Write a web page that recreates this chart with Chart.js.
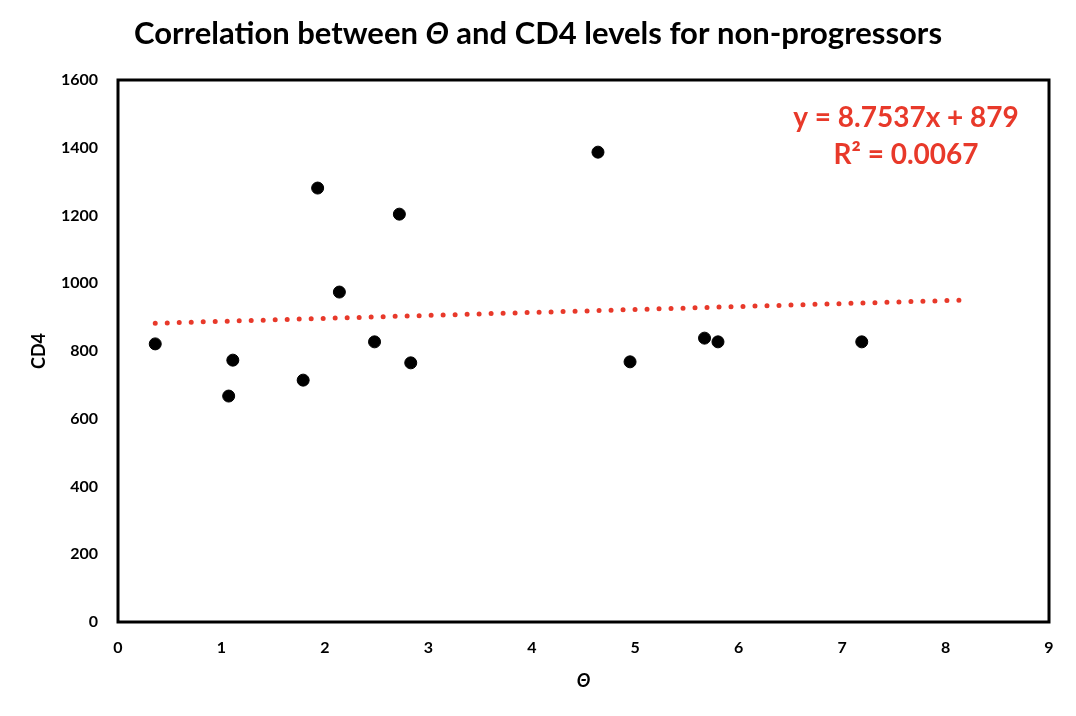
<!DOCTYPE html>
<html>
<head>
<meta charset="utf-8">
<script src="https://cdn.jsdelivr.net/npm/chart.js@4.4.1/dist/chart.umd.min.js"></script>
<style>
  html, body { margin: 0; padding: 0; background: #fff; }
  #wrap { position: relative; width: 1076px; height: 716px; }
  canvas { display: block; }
</style>
</head>
<body>
<div id="wrap"><canvas id="c" width="1076" height="716"></canvas></div>
<script>
// ---- data ----
const theta = [0.36, 1.07, 1.11, 1.79, 1.93, 2.14, 2.48, 2.72, 2.83, 4.64, 4.95, 5.67, 5.80, 7.19];
const cd4   = [821, 667, 773, 714, 1281, 974, 827, 1204, 765, 1387, 768, 838, 827, 827];
const trendX = [0.36, 8.15];
const trendY = [882, 950];
const xTicks = [0, 1, 2, 3, 4, 5, 6, 7, 8, 9];
const yTicks = [0, 200, 400, 600, 800, 1000, 1200, 1400, 1600];
const titleParts = [
  { text: 'Correlation between ', italic: false },
  { text: 'Θ', italic: true },
  { text: ' and CD4 levels for non-progressors', italic: false }
];
const equationLines = ['y = 8.7537x + 879', 'R² = 0.0067'];

const FONT = 'Lato, "Open Sans", sans-serif';
const RED = '#E8392A';

const decorPlugin = {
  id: 'decor',
  afterDraw(chart) {
    const ctx = chart.ctx;
    const a = chart.chartArea;
    ctx.save();
    // frame
    ctx.strokeStyle = '#000';
    ctx.lineWidth = 3;
    ctx.strokeRect(a.left, a.top, a.right - a.left, a.bottom - a.top);
    // title
    ctx.fillStyle = '#000';
    ctx.textBaseline = 'middle';
    ctx.textAlign = 'left';
    const size = 31;
    let total = 0;
    const widths = titleParts.map(p => {
      ctx.font = (p.italic ? 'italic ' : '') + 'bold ' + size + 'px ' + FONT;
      const w = ctx.measureText(p.text).width;
      total += w;
      return w;
    });
    let x = 538 - total / 2;
    titleParts.forEach((p, i) => {
      ctx.font = (p.italic ? 'italic ' : '') + 'bold ' + size + 'px ' + FONT;
      ctx.fillText(p.text, x, 34);
      x += widths[i];
    });
    // equation
    ctx.fillStyle = RED;
    ctx.textAlign = 'center';
    ctx.font = 'bold 28px ' + FONT;
    ctx.fillText(equationLines[0], 906, 118);
    ctx.fillText(equationLines[1], 906, 155);
    ctx.restore();
  }
};

new Chart(document.getElementById('c'), {
  type: 'scatter',
  data: {
    datasets: [
      {
        label: 'trend',
        type: 'line',
        data: trendX.map((v, i) => ({ x: v, y: trendY[i] })),
        borderColor: RED,
        borderWidth: 5,
        borderDash: [0, 12],
        borderCapStyle: 'round',
        pointRadius: 0,
        fill: false,
        order: 2
      },
      {
        label: 'CD4',
        data: theta.map((v, i) => ({ x: v, y: cd4[i] })),
        backgroundColor: '#000',
        borderColor: '#000',
        pointRadius: 6,
        pointHoverRadius: 6,
        order: 1
      }
    ]
  },
  options: {
    responsive: false,
    animation: false,
    devicePixelRatio: 1,
    layout: { padding: { top: 80, right: 27, left: 28, bottom: 20 } },
    plugins: { legend: { display: false }, tooltip: { enabled: false }, title: { display: false } },
    scales: {
      x: {
        type: 'linear',
        min: 0, max: 9,
        afterBuildTicks(s) { s.ticks = xTicks.map(v => ({ value: v })); },
        afterFit(s) { s.height = 716 - 622 - 20; },
        grid: { display: false, drawTicks: false },
        border: { display: false },
        ticks: { color: '#000', font: { family: FONT, weight: 'bold', size: 16 }, padding: 16 },
        title: { display: true, text: 'Θ', color: '#000', font: { family: FONT, weight: 'bold', style: 'italic', size: 18 }, padding: { top: 12 } }
      },
      y: {
        type: 'linear',
        min: 0, max: 1600,
        afterBuildTicks(s) { s.ticks = yTicks.map(v => ({ value: v })); },
        afterFit(s) { s.width = 118 - 28; },
        grid: { display: false, drawTicks: false },
        border: { display: false },
        ticks: { color: '#000', font: { family: FONT, weight: 'bold', size: 16 }, padding: 20, callback: v => String(v) },
        title: { display: true, text: 'CD4', color: '#000', font: { family: FONT, weight: 'bold', size: 18 }, padding: 0 }
      }
    }
  },
  plugins: [decorPlugin]
});
</script>
</body>
</html>
